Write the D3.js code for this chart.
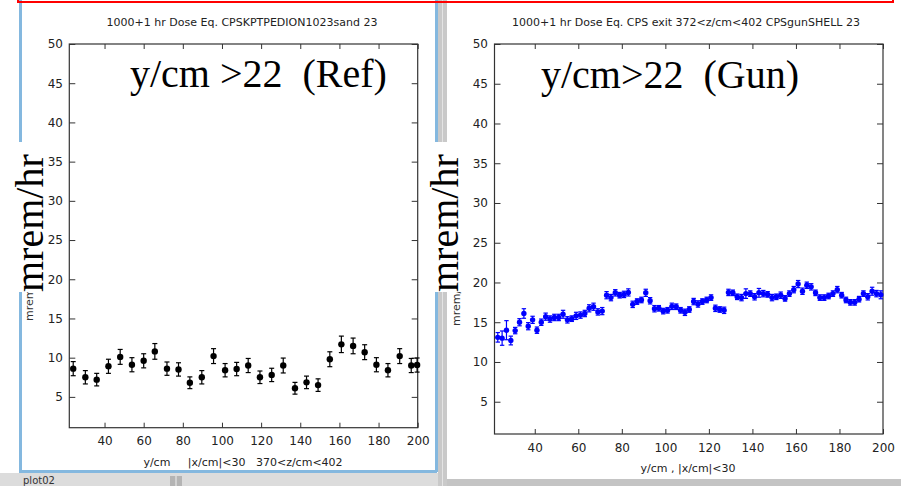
<!DOCTYPE html>
<html><head><meta charset="utf-8">
<script src="https://cdn.jsdelivr.net/npm/d3@7"></script>
<style>
html,body{margin:0;padding:0;background:#fff;}
svg{display:block;}
</style></head>
<body>
<svg id="chart" width="901" height="486"></svg>
<script>
// ---------- DATA ----------
const refX = [24, 30.2, 36, 42, 48, 54, 60, 65.7, 71.9, 77.8, 83.6, 89.7, 95.7, 101.6, 107.5, 113.4, 119.4, 125.4, 131.3, 137.3, 143.2, 149.1, 155.1, 161, 167, 172.9, 178.9, 184.8, 190.8, 196.7, 199.7];
const refY = [8.6, 7.5, 7.2, 8.9, 10.1, 9.1, 9.6, 10.8, 8.6, 8.5, 6.8, 7.5, 10.2, 8.4, 8.55, 9.0, 7.5, 7.8, 9.0, 6.1, 6.85, 6.5, 9.8, 11.7, 11.5, 10.7, 9.1, 8.4, 10.2, 9.0, 9.06];
const refErr = [0.9, 0.85, 0.8, 0.9, 0.95, 0.9, 0.9, 1.0, 0.85, 0.85, 0.75, 0.85, 0.95, 0.85, 0.85, 0.9, 0.8, 0.85, 0.95, 0.75, 0.8, 0.8, 0.95, 1.05, 1.0, 0.95, 0.9, 0.85, 0.95, 0.9, 0.9];

const gunX = [23,25,27,29,31,33,35,37,39,41,43,45,47,49,51,53,55,57,59,61,63,65,67,69,71,73,75,77,79,81,83,85,87,89,91,93,95,97,99,101,103,105,107,109,111,113,115,117,119,121,123,125,127,129,131,133,135,137,139,141,143,145,147,149,151,153,155,157,159,161,163,165,167,169,171,173,175,177,179,181,183,185,187,189,191,193,195,197,199];
const gunY = [13.1,13.0,14.0,12.7,13.95,15.0,16.1,14.5,15.3,14.0,15.0,15.7,15.4,15.6,15.6,16.0,15.3,15.45,15.8,15.9,16.1,16.75,16.95,16.3,16.4,18.4,18.1,18.7,18.4,18.5,18.75,17.25,17.6,17.8,18.7,17.7,16.7,16.75,16.4,16.5,17.0,16.95,16.5,16.25,16.6,17.6,17.3,17.6,17.8,18.1,16.75,16.6,16.5,18.75,18.7,18.2,18.1,18.6,18.6,18.2,18.7,18.6,18.5,18.1,18.2,18.4,18.0,18.6,19.1,19.8,18.9,19.65,19.45,18.7,18.1,18.1,18.3,18.6,19.1,18.4,17.8,17.5,17.5,17.9,18.6,18.2,18.9,18.6,18.45];
const gunErr = [0.6,0.9,1.2,0.55,0.4,0.45,0.6,0.45,0.45,0.4,0.4,0.45,0.4,0.4,0.4,0.5,0.4,0.35,0.45,0.4,0.4,0.45,0.45,0.4,0.45,0.45,0.4,0.4,0.35,0.4,0.45,0.4,0.35,0.35,0.45,0.4,0.4,0.35,0.35,0.35,0.4,0.35,0.35,0.4,0.35,0.4,0.4,0.35,0.35,0.35,0.4,0.35,0.4,0.4,0.35,0.35,0.4,0.6,0.35,0.4,0.55,0.4,0.35,0.4,0.35,0.4,0.35,0.35,0.4,0.45,0.4,0.4,0.4,0.35,0.35,0.35,0.35,0.35,0.4,0.35,0.35,0.35,0.35,0.35,0.35,0.4,0.5,0.4,0.5];

const xTicks = [40, 60, 80, 100, 120, 140, 160, 180, 200];
const yTicks = [5, 10, 15, 20, 25, 30, 35, 40, 45, 50];

const titles = ["1000+1 hr Dose Eq. CPSKPTPEDION1023sand 23", "1000+1 hr Dose Eq. CPS exit 372<z/cm<402 CPSgunSHELL 23"];
const xTitles = ["y/cm     |x/cm|<30   370<z/cm<402", "y/cm , |x/cm|<30"];
const yTitle = "mrem/hr";
const bigLabels = ["y/cm >22  (Ref)", "y/cm>22  (Gun)"];
const bigYLabel = "mrem/hr";

// ---------- LAYOUT ----------
const svg = d3.select("#chart");

svg.append("rect").attr("x",0).attr("y",0).attr("width",901).attr("height",486).attr("fill","#fff");
// bottom strip under left window
svg.append("rect").attr("x",0).attr("y",473).attr("width",442).attr("height",13).attr("fill","#dcdcdc");
svg.append("rect").attr("x",170).attr("y",476).attr("width",12).attr("height",10).attr("fill","#b4b4b4");
svg.append("line").attr("x1",176).attr("x2",176).attr("y1",476).attr("y2",486).attr("stroke","#eee");
svg.append("text").attr("x",23).attr("y",484).attr("font-family","DejaVu Sans").attr("font-size",10).attr("fill","#333").text("plot02");
// separator / scrollbar
svg.append("rect").attr("x",438).attr("y",0).attr("width",9).attr("height",486).attr("fill","#c9c9c9");
svg.append("line").attr("x1",442.5).attr("x2",442.5).attr("y1",0).attr("y2",486).attr("stroke","#e4e4e4");
// right window bottom
svg.append("rect").attr("x",447).attr("y",479).attr("width",454).attr("height",7).attr("fill","#c4c4c4");
// left window blue frame
svg.append("path").attr("d","M20.5,0 V471.5 H437").attr("fill","none").attr("stroke","#84b8df").attr("stroke-width",3);
svg.append("line").attr("x1",436.5).attr("x2",436.5).attr("y1",0).attr("y2",472).attr("stroke","#84b8df").attr("stroke-width",3);
// red box at top
svg.append("rect").attr("x",18).attr("y",-10).attr("width",875).attr("height",12).attr("fill","none").attr("stroke","#ff0000").attr("stroke-width",2);

const panels = [
  {x0:69.3, x1:417.7, y0:44, y1:427.7, xd:[22,200], yd:[1.07,50], xs:refX, ys:refY, es:refErr, color:"#000", r:3.2, cap:2.5,
   title:titles[0], tcx:242, xt:xTitles[0], xtx:243, xty:466, ylX:63, big:bigLabels[0], bigX:130, bigY:87,
   smallYx:33, smallYy:321, bigYx:43, bigYy:292, bgX0:10, bgX1:46},
  {x0:494.5, x1:883, y0:44, y1:434, xd:[21.5,200], yd:[0.94,50], xs:gunX, ys:gunY, es:gunErr, color:"#0000ff", r:2.7, cap:2.2,
   title:titles[1], tcx:686, xt:xTitles[1], xtx:688, xty:472, ylX:488, big:bigLabels[1], bigX:541, bigY:88,
   smallYx:460, smallYy:326, bigYx:458, bigYy:292, bgX0:435, bgX1:462}
];

const font = "DejaVu Sans";
const axisColor = "#333";

panels.forEach(p => {
  const x = d3.scaleLinear().domain(p.xd).range([p.x0, p.x1]);
  const y = d3.scaleLinear().domain(p.yd).range([p.y1, p.y0]);
  const g = svg.append("g");

  g.append("text").attr("x",p.tcx).attr("y",26).attr("text-anchor","middle")
    .attr("font-family",font).attr("font-size",11).attr("fill","#222").text(p.title);

  g.append("rect").attr("x",p.x0).attr("y",p.y0).attr("width",p.x1-p.x0).attr("height",p.y1-p.y0)
    .attr("fill","none").attr("stroke",axisColor).attr("stroke-width",1.2);

  const xb = d3.axisBottom(x).tickValues(xTicks).tickSize(-5).tickPadding(13).tickFormat(d3.format("d"));
  const gx = g.append("g").attr("transform",`translate(0,${p.y1})`).call(xb);
  const xt = d3.axisTop(x).tickValues(xTicks).tickSize(-5).tickFormat("");
  const gxt = g.append("g").attr("transform",`translate(0,${p.y0})`).call(xt);
  const yl = d3.axisLeft(y).tickValues(yTicks).tickSize(-6).tickPadding(p.x0 - p.ylX).tickFormat(d3.format("d"));
  const gy = g.append("g").attr("transform",`translate(${p.x0},0)`).call(yl);
  const yr = d3.axisRight(y).tickValues(yTicks).tickSize(-6).tickFormat("");
  const gyr = g.append("g").attr("transform",`translate(${p.x1},0)`).call(yr);
  [gx,gxt,gy,gyr].forEach(a => {
    a.select(".domain").remove();
    a.selectAll("line").attr("stroke",axisColor);
    a.selectAll("text").attr("font-family",font).attr("font-size",12).attr("fill","#222");
  });
  gx.selectAll("text").attr("dy","0.71em").attr("y",9);

  g.append("text").attr("x",p.xtx).attr("y",p.xty).attr("text-anchor","middle").style("white-space","pre")
    .attr("xml:space","preserve")
    .attr("font-family",font).attr("font-size",11).attr("fill","#222").text(p.xt);

  g.append("text").attr("transform",`translate(${p.smallYx},${p.smallYy}) rotate(-90)`)
    .attr("font-family",font).attr("font-size",11).attr("fill","#333").text(yTitle);

  const pts = p.xs.map((xv,i) => ({x:xv, y:p.ys[i], e:p.es[i]}));
  const eb = g.append("g");
  eb.selectAll("line.v").data(pts).join("line").attr("class","v")
    .attr("x1",d=>x(d.x)).attr("x2",d=>x(d.x)).attr("y1",d=>y(d.y-d.e)).attr("y2",d=>y(d.y+d.e))
    .attr("stroke",p.color).attr("stroke-width",1.2);
  eb.selectAll("line.t").data(pts).join("line").attr("class","t")
    .attr("x1",d=>x(d.x)-p.cap).attr("x2",d=>x(d.x)+p.cap).attr("y1",d=>y(d.y+d.e)).attr("y2",d=>y(d.y+d.e))
    .attr("stroke",p.color).attr("stroke-width",1.2);
  eb.selectAll("line.b").data(pts).join("line").attr("class","b")
    .attr("x1",d=>x(d.x)-p.cap).attr("x2",d=>x(d.x)+p.cap).attr("y1",d=>y(d.y-d.e)).attr("y2",d=>y(d.y-d.e))
    .attr("stroke",p.color).attr("stroke-width",1.2);
  g.append("g").selectAll("circle").data(pts).join("circle")
    .attr("cx",d=>x(d.x)).attr("cy",d=>y(d.y)).attr("r",p.r).attr("fill",p.color);

  g.append("text").attr("x",p.bigX).attr("y",p.bigY).style("white-space","pre").attr("xml:space","preserve")
    .attr("font-family","Liberation Serif").attr("font-size",40).attr("fill","#000").text(p.big);

  g.append("rect").attr("x",p.bgX0).attr("y",142).attr("width",p.bgX1-p.bgX0).attr("height",150).attr("fill","#fff");
  g.append("text").attr("transform",`translate(${p.bigYx},${p.bigYy}) rotate(-90)`)
    .attr("font-family","Liberation Serif").attr("font-size",40).attr("fill","#000").text(bigYLabel);
});
</script>
</body></html>
